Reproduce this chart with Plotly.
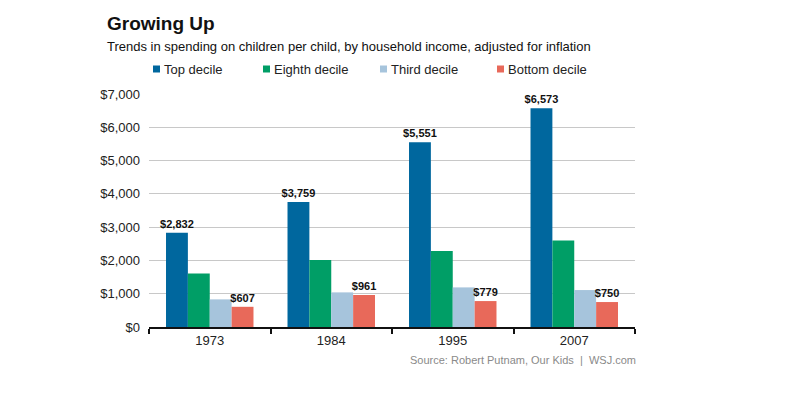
import plotly.graph_objects as go

years = ["1973", "1984", "1995", "2007"]
series_names = ["Top decile", "Eighth decile", "Third decile", "Bottom decile"]
top_decile = [2832, 3759, 5551, 6573]
eighth_decile = [1610, 2010, 2280, 2600]
third_decile = [830, 1040, 1190, 1110]
bottom_decile = [607, 961, 779, 750]
show_labels = [True, False, False, True]
colors = ["#00679e", "#009e66", "#a6c4dc", "#e8695a"]

# page body adds an 8px offset; targets below are in screenshot pixels
OFF = 8
W, H = 787, 404
PLOT_L, PLOT_R, PLOT_T, PLOT_B = 149, 635, 94, 327
ML = PLOT_L - OFF
MT = PLOT_T - OFF
MR = W - (PLOT_R - OFF)
MB = H - (PLOT_B - OFF)
PW = PLOT_R - PLOT_L
PH = PLOT_B - PLOT_T

def px_x(p):
    return (p - PLOT_L) / PW

def px_y(p):
    return (PLOT_B - p) / PH

font_family = "Arial, Liberation Sans, sans-serif"

fig = go.Figure()
for name, vals, lab, col in zip(series_names,
                                [top_decile, eighth_decile, third_decile, bottom_decile],
                                show_labels, colors):
    fig.add_trace(go.Bar(
        x=years, y=vals, name=name, marker=dict(color=col, line=dict(width=0)),
        text=[f"${v:,}" for v in vals] if lab else None,
        textposition="outside" if lab else "none",
        constraintext="none",
        textfont=dict(family=font_family, size=11, color="#111111", weight="bold"),
        cliponaxis=False,
        showlegend=False,
    ))

# legend drawn as small squares + text (positions in screenshot pixels)
legend_sym_x = [153, 263, 380, 497]
legend_y = 69
shapes = []
annotations = []
for name, col, sx in zip(series_names, colors, legend_sym_x):
    shapes.append(dict(type="rect", xref="paper", yref="paper",
                       x0=px_x(sx), x1=px_x(sx + 7), y0=px_y(legend_y + 3.5), y1=px_y(legend_y - 3.5),
                       fillcolor=col, line=dict(width=0)))
    annotations.append(dict(text=name, x=px_x(sx + 9), y=px_y(legend_y), xref="paper", yref="paper",
                            xanchor="left", yanchor="middle", showarrow=False,
                            font=dict(size=13, color="#222222")))

annotations += [
    dict(text="<b>Growing Up</b>", x=px_x(105), y=px_y(23), xref="paper", yref="paper",
         xanchor="left", yanchor="middle", showarrow=False,
         font=dict(size=19, color="#111111")),
    dict(text="Trends in spending on children per child, by household income, adjusted for inflation",
         x=px_x(105), y=px_y(46), xref="paper", yref="paper",
         xanchor="left", yanchor="middle", showarrow=False,
         font=dict(size=13, color="#111111")),
    dict(text="Source: Robert Putnam, Our Kids  |  WSJ.com",
         x=px_x(638), y=px_y(360), xref="paper", yref="paper",
         xanchor="right", yanchor="middle", showarrow=False,
         font=dict(size=11, color="#8a8a8a")),
]

fig.update_layout(
    width=W, height=H,
    margin=dict(l=ML, r=MR, t=MT, b=MB, autoexpand=False),
    paper_bgcolor="white", plot_bgcolor="white",
    barmode="group", bargap=0.28, bargroupgap=0,
    font=dict(family=font_family, size=13, color="#222222"),
    showlegend=False,
    xaxis=dict(showline=True, linecolor="#111111", linewidth=2, ticks="outside",
               tickson="boundaries", ticklen=5, tickcolor="#111111", tickwidth=2,
               showgrid=False, tickfont=dict(size=13, color="#222222")),
    yaxis=dict(range=[0, 7000], dtick=1000, tickprefix="$", tickformat=",",
               showgrid=True, gridcolor="#c8c8c8", gridwidth=1, zeroline=False,
               showline=False, ticks="", tickfont=dict(size=13, color="#222222"),
               ticklabelstandoff=8),
    shapes=shapes,
    annotations=annotations,
)

fig.write_html("out.html")
